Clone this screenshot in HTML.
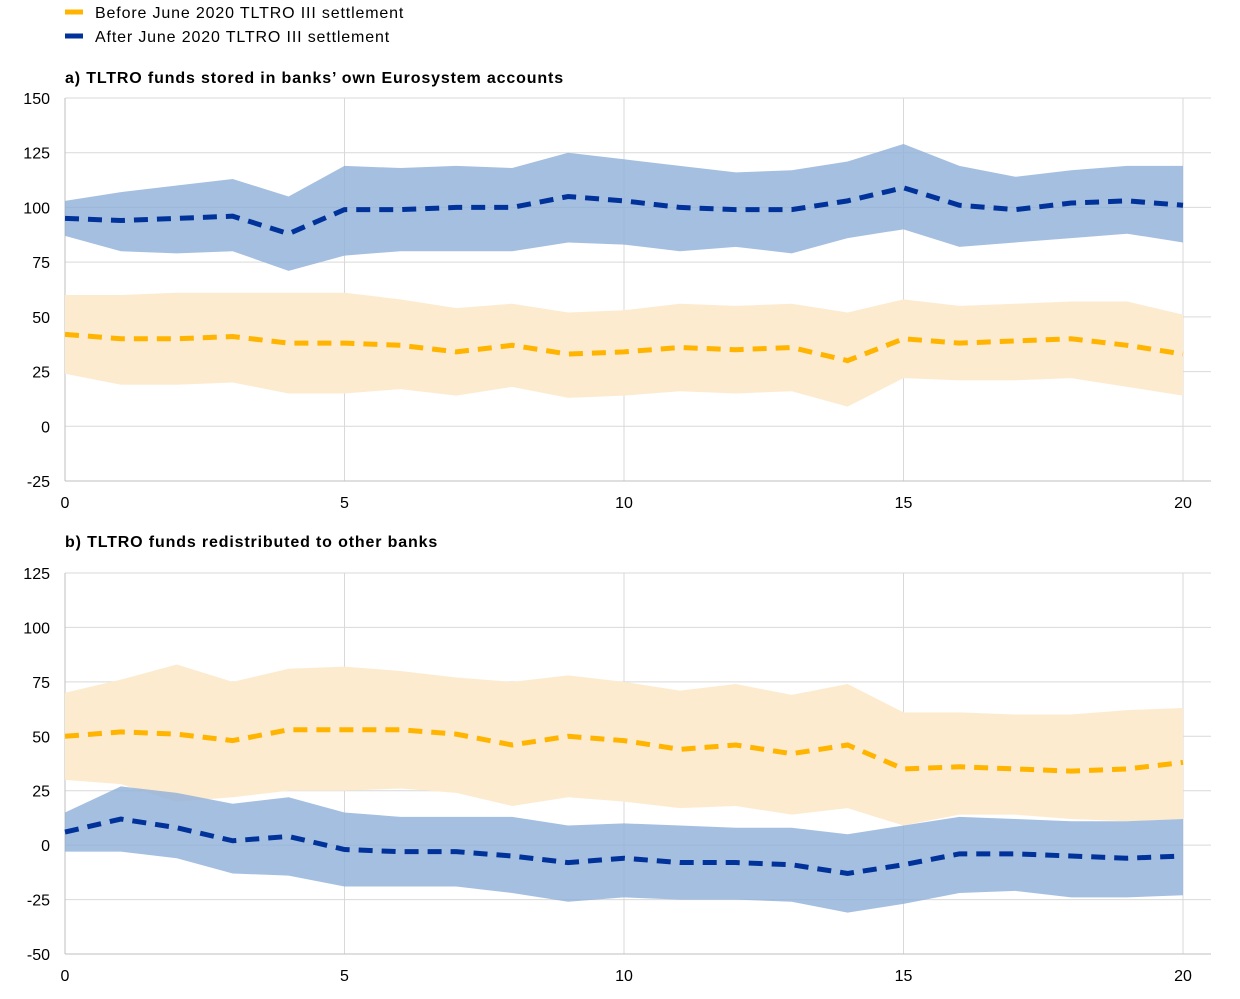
<!DOCTYPE html>
<html><head><meta charset="utf-8"><style>
html,body{margin:0;padding:0;background:#fff;}
svg text{font-family:"Liberation Sans",Arial,sans-serif;}
.t{letter-spacing:0.85px;}
</style></head><body>
<svg id="s" width="1240" height="994" viewBox="0 0 1240 994" xmlns="http://www.w3.org/2000/svg">
<rect width="1240" height="994" fill="#fff"/>
<line x1="65" y1="12" x2="83" y2="12" stroke="#ffb400" stroke-width="5"/>
<text class="t" x="95" y="18" font-size="16" fill="#000">Before June 2020 TLTRO III settlement</text>
<line x1="65" y1="36" x2="83" y2="36" stroke="#003299" stroke-width="5"/>
<text class="t" x="95" y="42" font-size="16" fill="#000">After June 2020 TLTRO III settlement</text>
<text class="t" x="65" y="83" font-size="16" font-weight="bold" fill="#000">a) TLTRO funds stored in banks’ own Eurosystem accounts</text>
<text class="t" x="65" y="547" font-size="16" font-weight="bold" fill="#000">b) TLTRO funds redistributed to other banks</text>
</svg>
<script>
var s=document.getElementById('s'),NS='http://www.w3.org/2000/svg';
function el(t,a,txt){var e=document.createElementNS(NS,t);for(var k in a)e.setAttribute(k,a[k]);if(txt!=null)e.textContent=txt;s.appendChild(e);return e;}
function X(i){return 65+i*55.9;}
function panel(top,bot,ymax,ymin,ticks,d){
 function Y(v){return top+(ymax-v)*(bot-top)/(ymax-ymin);}
 ticks.forEach(function(t){var y=Y(t);el('line',{x1:65,x2:1211,y1:y,y2:y,stroke:'#d9d9d9','stroke-width':1});
  el('text',{x:50,y:y+6,'font-size':16,'text-anchor':'end',fill:'#000'},t);});
 [5,10,15,20].forEach(function(i){el('line',{x1:X(i),x2:X(i),y1:top,y2:bot,stroke:'#d9d9d9','stroke-width':1});});
 [0,5,10,15,20].forEach(function(i){el('text',{x:X(i),y:bot+27,'font-size':16,'text-anchor':'middle',fill:'#000'},i);});
 el('line',{x1:65,x2:65,y1:top,y2:bot,stroke:'#bfbfbf','stroke-width':1});
 el('line',{x1:65,x2:1211,y1:bot,y2:bot,stroke:'#bfbfbf','stroke-width':1});
 function band(u,l,c,o){var p='M';u.forEach(function(v,i){p+=X(i)+','+Y(v)+' L';});
  for(var i=l.length-1;i>=0;i--)p+=X(i)+','+Y(l[i])+(i?' L':' Z');el('path',{d:p,fill:c,'fill-opacity':o});}
 function line(m,c){el('polyline',{points:m.map(function(v,i){return X(i)+','+Y(v);}).join(' '),fill:'none',stroke:c,'stroke-width':5,'stroke-dasharray':'14,9'});}
 band(d.ou,d.ol,'#fdebcf',1);band(d.bu,d.bl,'#8fafd9',0.8);line(d.om,'#ffb400');line(d.bm,'#003299');
}
panel(98,481,150,-25,[150,125,100,75,50,25,0,-25],{
 bu:[103,107,110,113,105,119,118,119,118,125,122,119,116,117,121,129,119,114,117,119,119],
 bl:[87,80,79,80,71,78,80,80,80,84,83,80,82,79,86,90,82,84,86,88,84],
 bm:[95,94,95,96,88,99,99,100,100,105,103,100,99,99,103,109,101,99,102,103,101],
 ou:[60,60,61,61,61,61,58,54,56,52,53,56,55,56,52,58,55,56,57,57,51],
 ol:[24,19,19,20,15,15,17,14,18,13,14,16,15,16,9,22,21,21,22,18,14],
 om:[42,40,40,41,38,38,37,34,37,33,34,36,35,36,30,40,38,39,40,37,33]});
panel(573,954,125,-50,[125,100,75,50,25,0,-25,-50],{
 ou:[70,76,83,75,81,82,80,77,75,78,75,71,74,69,74,61,61,60,60,62,63],
 ol:[30,28,20,22,25,25,26,24,18,22,20,17,18,14,17,9,14,14,12,11,12],
 om:[50,52,51,48,53,53,53,51,46,50,48,44,46,42,46,35,36,35,34,35,38],
 bu:[15,27,24,19,22,15,13,13,13,9,10,9,8,8,5,9,13,12,11,11,12],
 bl:[-3,-3,-6,-13,-14,-19,-19,-19,-22,-26,-24,-25,-25,-26,-31,-27,-22,-21,-24,-24,-23],
 bm:[6,12,8,2,4,-2,-3,-3,-5,-8,-6,-8,-8,-9,-13,-9,-4,-4,-5,-6,-5]});
</script>
</body></html>
